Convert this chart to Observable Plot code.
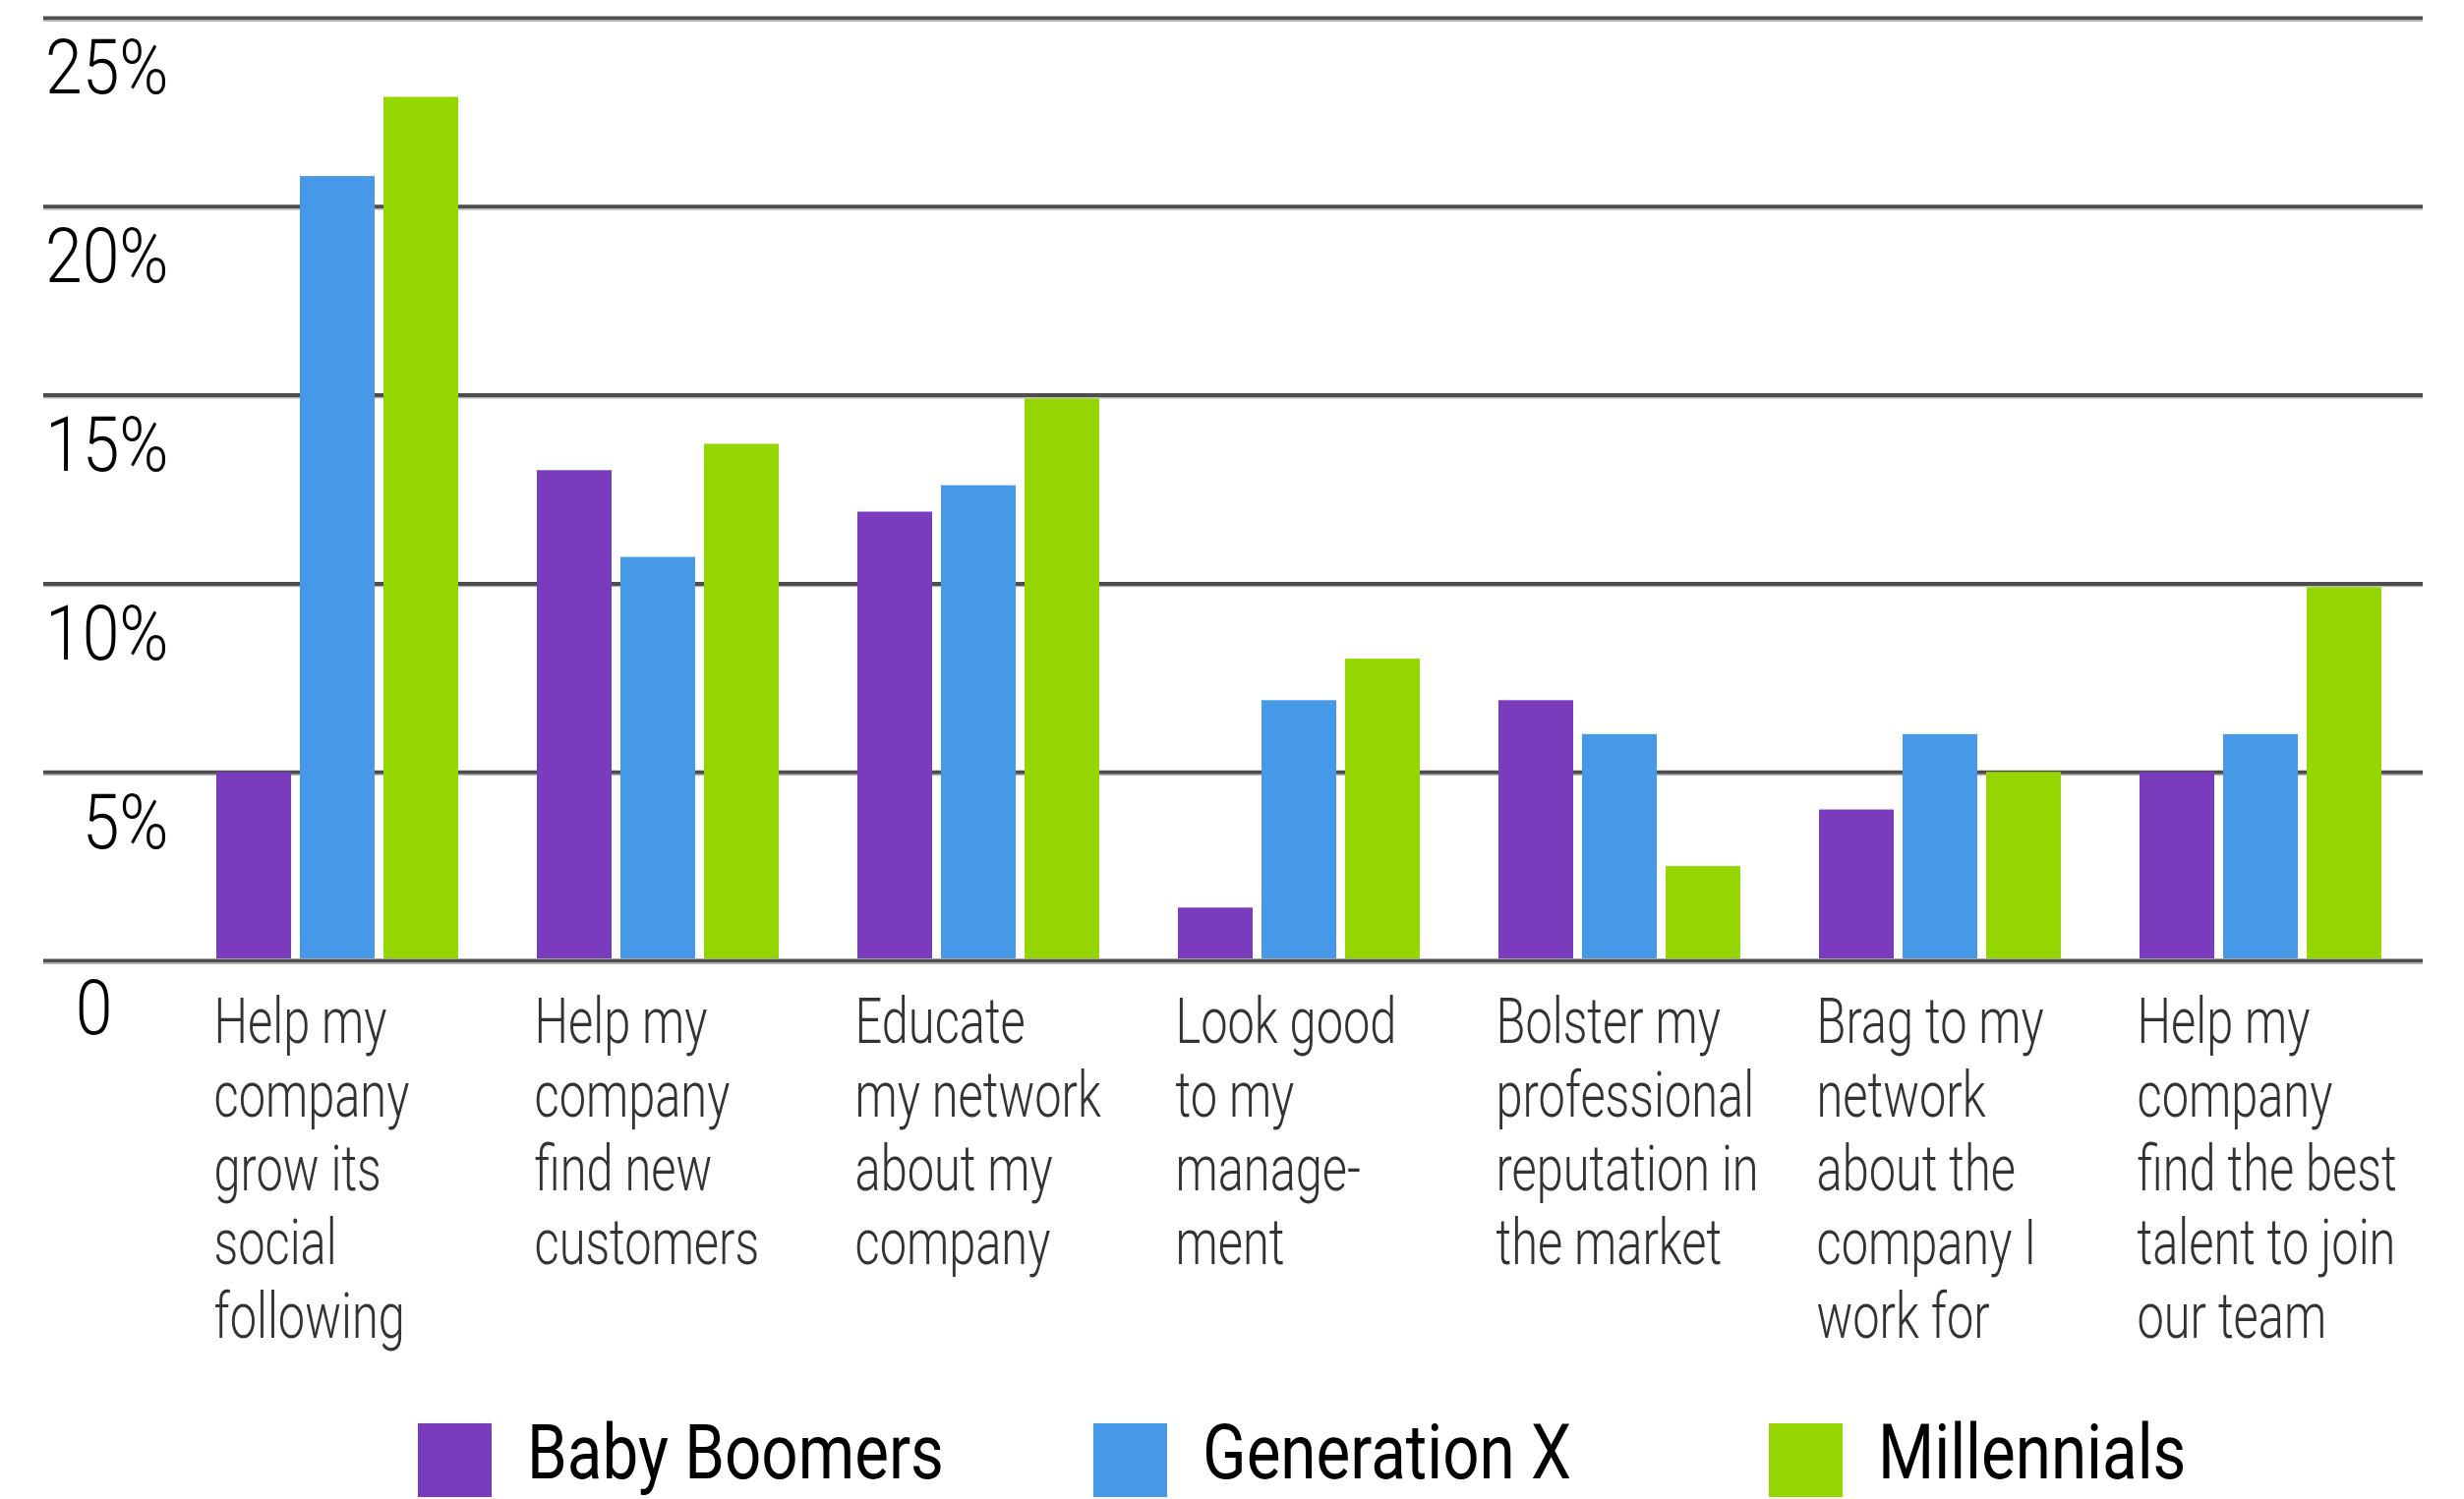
<!DOCTYPE html>
<html>
<head>
<meta charset="utf-8">
<script src="https://cdn.jsdelivr.net/npm/d3@7"></script>
<script src="https://cdn.jsdelivr.net/npm/@observablehq/plot@0.6"></script>
<style>
  html, body { margin: 0; padding: 0; background: #fff; }
  body { width: 2506px; height: 1525px; overflow: hidden; font-family: Roboto, "Liberation Sans", sans-serif; }
  #chart { position: relative; width: 2506px; height: 1430px; }
  #chart svg { position: absolute; left: 0; top: 0; }
  #legend { display: grid; grid-template-columns: repeat(3, 687px); padding-left: 425px; padding-top: 18px; }
  .item { display: flex; align-items: center; }
  .sw { width: 75px; height: 75px; flex: none; }
  .lab { margin-left: 36px; font-size: 78px; color: #000; line-height: 72px; white-space: nowrap;
         display: inline-block; position: relative; top: -8px;
         transform: scaleX(0.84); transform-origin: left center; font-weight: 400; }
</style>
</head>
<body>
<div id="chart"></div>
<div id="legend"></div>
<script>
const categories = [
  "Help my\ncompany\ngrow its\nsocial\nfollowing",
  "Help my\ncompany\nfind new\ncustomers",
  "Educate\nmy network\nabout my\ncompany",
  "Look good\nto my\nmanage-\nment",
  "Bolster my\nprofessional\nreputation in\nthe market",
  "Brag to my\nnetwork\nabout the\ncompany I\nwork for",
  "Help my\ncompany\nfind the best\ntalent to join\nour team"
];
const series = ["Baby Boomers", "Generation X", "Millennials"];
const babyBoomers = [5.0, 13.0, 11.9, 1.4, 6.9, 4.0, 5.0];
const generationX = [20.8, 10.7, 12.6, 6.9, 6.0, 6.0, 6.0];
const millennials = [22.9, 13.7, 14.9, 8.0, 2.5, 5.0, 9.9];
const colors = ["#7a3cbd", "#4699e6", "#96d600"];
const yTicks = [0, 5, 10, 15, 20, 25];
const yTickLabels = ["0", "5%", "10%", "15%", "20%", "25%"];

const seriesValues = [babyBoomers, generationX, millennials];
const rows = [];
categories.forEach((c, i) => series.forEach((s, j) => rows.push({category: c, series: s, value: seriesValues[j][i]})));

const fontFamily = 'Roboto, "Liberation Sans", sans-serif';
const frame = {width: 2506, height: 1430, marginLeft: 44, marginRight: 42, marginTop: 18, marginBottom: 453};

// Background layer: gridlines and y tick labels spanning the full frame
const back = Plot.plot({
  ...frame,
  style: {fontFamily, background: "#fff", overflow: "visible"},
  y: {domain: [0, 25], axis: null, label: null},
  marks: [
    Plot.ruleY(yTicks, {stroke: "#4d4d4d", strokeWidth: 4}),
    Plot.ruleY(yTicks, {stroke: "#b5b5b5", strokeWidth: 1.4, dy: 2.7}),
    Plot.text(yTicks.slice(1), {y: d => d, text: (d, i) => yTickLabels[i + 1],
      frameAnchor: "left", textAnchor: "end", lineAnchor: "middle", dx: 127, dy: 52,
      fontSize: 78, fontWeight: 300, fill: "#000"}),
    Plot.text(yTicks.slice(0, 1), {y: d => d, text: (d, i) => yTickLabels[i],
      frameAnchor: "left", textAnchor: "end", lineAnchor: "middle", dx: 70, dy: 50,
      fontSize: 78, fontWeight: 300, fill: "#000"})
  ]
});

// Foreground layer: grouped bars and category labels
const front = Plot.plot({
  ...frame,
  style: {fontFamily, background: "transparent", overflow: "visible"},
  fx: {domain: categories, paddingInner: 0.245, paddingOuter: 0.334, align: 0.807, axis: null, label: null},
  x: {domain: series, paddingInner: 0.106, paddingOuter: 0, axis: null, label: null},
  y: {domain: [0, 25], axis: null, label: null},
  color: {domain: series, range: colors},
  marks: [
    Plot.barY(rows, {fx: "category", x: "series", y: "value", fill: "series", insetBottom: 2}),
    Plot.text(categories, {fx: d => d, y: () => 0, text: d => d, frameAnchor: "left",
      textAnchor: "start", lineAnchor: "top", dx: -3, dy: 30, fontSize: 65, fontWeight: 300,
      lineHeight: 1.154, fill: "#333"})
  ]
});

// condensed typeface look: narrow the glyphs horizontally around each text's anchor
function condense(svg, s) {
  svg.querySelectorAll("text").forEach(t => {
    t.setAttribute("transform", (t.getAttribute("transform") || "") + ` scale(${s},1)`);
  });
}
condense(back, 0.87);
condense(front, 0.75);

const chartDiv = document.getElementById("chart");
chartDiv.appendChild(back);
chartDiv.appendChild(front);

const legend = document.getElementById("legend");
series.forEach((s, j) => {
  const item = document.createElement("div");
  item.className = "item";
  const sw = document.createElement("div");
  sw.className = "sw";
  sw.style.background = colors[j];
  const lab = document.createElement("span");
  lab.className = "lab";
  lab.textContent = s;
  item.appendChild(sw);
  item.appendChild(lab);
  legend.appendChild(item);
});
</script>
</body>
</html>
